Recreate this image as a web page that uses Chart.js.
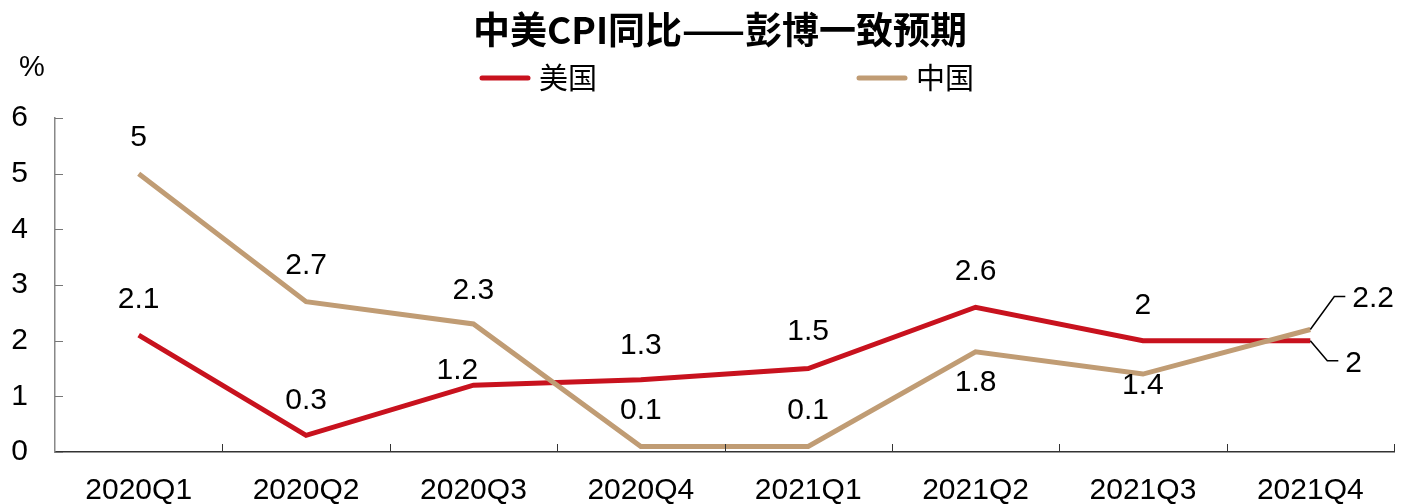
<!DOCTYPE html>
<html>
<head>
<meta charset="utf-8">
<script src="https://cdn.jsdelivr.net/npm/chart.js@4/dist/chart.umd.min.js"></script>
<style>
  html, body { margin: 0; padding: 0; background: #ffffff; }
  #cpi { display: block; }
</style>
</head>
<body>
<canvas id="cpi" width="1402" height="504"></canvas>
<script>
// Data
var quarters = ['2020Q1', '2020Q2', '2020Q3', '2020Q4', '2021Q1', '2021Q2', '2021Q3', '2021Q4'];
var usCpi = [2.1, 0.3, 1.2, 1.3, 1.5, 2.6, 2, 2];
var chinaCpi = [5, 2.7, 2.3, 0.1, 0.1, 1.8, 1.4, 2.2];
var yTicks = [0, 1, 2, 3, 4, 5, 6];

var titleText = '中美CPI同比——彭博一致预期';
var unitText = '%';

var RED = '#C8121E';
var TAN = '#C09C74';
var latin = '"Liberation Sans", Arial, sans-serif';
var cjk = '"Noto Sans CJK SC", "Noto Sans CJK TC", sans-serif';

// label placement per point: [dx, dy] from the point, or 'up' / 'down' for a leader line
var usLabelPos = [[0, -35], [0, -35], [-16, -14], [0, -34], [0, -37], [0, -36], [0, -35], 'down'];
var chinaLabelPos = [[0, -36], [0, -36], [0, -33], [0, -36], [0, -36], [0, 31], [0, 12], 'up'];

var decor = {
  id: 'decor',
  afterDatasetsDraw: function(chart) {
    var ctx = chart.ctx;
    var xs = chart.scales.x, ys = chart.scales.y;
    var area = chart.chartArea;
    ctx.save();

    // title
    ctx.fillStyle = '#000';
    ctx.font = 'bold 37px ' + cjk;
    ctx.textAlign = 'center';
    ctx.textBaseline = 'middle';
    ctx.fillText(titleText, 720, 30);

    // legend
    var items = [{ text: '美国', color: RED, x: 482 }, { text: '中国', color: TAN, x: 859 }];
    items.forEach(function(it) {
      ctx.strokeStyle = it.color;
      ctx.lineWidth = 5;
      ctx.lineCap = 'round';
      ctx.beginPath();
      ctx.moveTo(it.x, 78);
      ctx.lineTo(it.x + 46, 78);
      ctx.stroke();
      ctx.fillStyle = '#000';
      ctx.font = '29px ' + cjk;
      ctx.textAlign = 'left';
      ctx.fillText(it.text, it.x + 57, 78);
    });

    // unit
    ctx.font = '29px ' + latin;
    ctx.textAlign = 'center';
    ctx.fillText(unitText, 32, 68);

    // inward tick marks
    ctx.lineCap = 'butt';
    ctx.lineWidth = 1;
    ctx.strokeStyle = '#777';
    yTicks.forEach(function(v) {
      var py = Math.round(ys.getPixelForValue(v)) + 0.5;
      ctx.beginPath();
      ctx.moveTo(area.left, py);
      ctx.lineTo(area.left + 8, py);
      ctx.stroke();
    });
    ctx.strokeStyle = '#333';
    var step = xs.getPixelForTick(1) - xs.getPixelForTick(0);
    for (var i = 0; i < quarters.length; i++) {
      var px = Math.round(xs.getPixelForTick(i) + step / 2) + 0.5;
      ctx.beginPath();
      ctx.moveTo(px, area.bottom);
      ctx.lineTo(px, area.bottom - 8);
      ctx.stroke();
    }

    // data labels
    ctx.font = '30px ' + latin;
    ctx.fillStyle = '#000';
    var sets = [{ data: usCpi, pos: usLabelPos, meta: chart.getDatasetMeta(0) },
                { data: chinaCpi, pos: chinaLabelPos, meta: chart.getDatasetMeta(1) }];
    sets.forEach(function(s) {
      s.data.forEach(function(v, i) {
        var pt = s.meta.data[i];
        var p = s.pos[i];
        if (Array.isArray(p)) {
          ctx.textAlign = 'center';
          ctx.fillText(String(v), pt.x + p[0], pt.y + p[1]);
        } else {
          var dir = p === 'up' ? -1 : 1;
          var ex = pt.x + (dir < 0 ? 24 : 17);
          var ey = pt.y + dir * (dir < 0 ? 33 : 20);
          ctx.strokeStyle = '#000';
          ctx.lineWidth = 1.5;
          ctx.beginPath();
          ctx.moveTo(pt.x, pt.y);
          ctx.lineTo(ex, ey);
          ctx.lineTo(ex + 11, ey);
          ctx.stroke();
          ctx.textAlign = 'left';
          ctx.fillText(String(v), ex + 18, ey + (dir < 0 ? 2 : 3));
        }
      });
    });
    ctx.restore();
  }
};

new Chart(document.getElementById('cpi').getContext('2d'), {
  type: 'line',
  data: {
    labels: quarters,
    datasets: [
      { label: '美国', data: usCpi, borderColor: RED, backgroundColor: RED, borderWidth: 5,
        pointRadius: 0, tension: 0, order: 1 },
      { label: '中国', data: chinaCpi, borderColor: TAN, backgroundColor: TAN, borderWidth: 5,
        pointRadius: 0, tension: 0, order: 0 }
    ]
  },
  options: {
    responsive: false,
    animation: false,
    layout: { padding: { top: 118, left: 10, right: 8, bottom: 0 } },
    plugins: {
      legend: { display: false },
      title: { display: false },
      tooltip: { enabled: false }
    },
    scales: {
      x: {
        offset: true,
        grid: { display: false, drawTicks: false },
        border: { display: true, color: '#333', width: 1.5 },
        ticks: { color: '#000', font: { family: latin, size: 30 }, padding: 21, maxRotation: 0, autoSkip: false },
        afterFit: function(scale) { scale.height = 52; }
      },
      y: {
        min: 0,
        max: 6,
        grid: { display: false, drawTicks: false },
        border: { display: true, color: '#888', width: 1.5 },
        ticks: { color: '#000', font: { family: latin, size: 30 }, padding: 27, stepSize: 1 },
        afterFit: function(scale) { scale.width = 45; }
      }
    }
  },
  plugins: [decor]
});
</script>
</body>
</html>
